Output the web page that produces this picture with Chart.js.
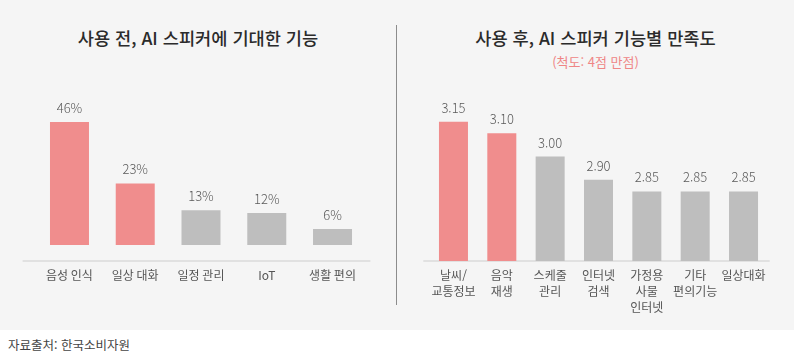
<!DOCTYPE html>
<html lang="ko">
<head>
<meta charset="utf-8">
<title>AI 스피커 기능</title>
<script src="https://cdn.jsdelivr.net/npm/chart.js@4/dist/chart.umd.min.js"></script>
<style>
  html, body { margin: 0; padding: 0; background: #fff; }
  body { width: 794px; height: 364px; position: relative; overflow: hidden;
         font-family: "Noto Sans CJK KR", "Noto Sans", sans-serif; }
  .panel { position: absolute; left: 0; top: 0; width: 794px; height: 330px; background: #f5f5f5; }
  .divider { position: absolute; left: 396px; top: 25px; width: 1px; height: 280px; background: #8c8c8c; }
  .title { position: absolute; top: 26px; margin: 0; font-size: 17.6px; font-weight: 500;
           color: #2b2b2b; text-align: center; line-height: 24px; }
  .sub { position: absolute; top: 53px; left: 397px; width: 397px; margin: 0; font-size: 13px;
         color: #ef8585; text-align: center; line-height: 18px; }
  .source { position: absolute; left: 8px; top: 336px; margin: 0; font-size: 12.5px; color: #444; line-height: 18px; }
  canvas { position: absolute; top: 0; }
</style>
</head>
<body>
<div class="panel"></div>
<div class="divider"></div>
<h2 class="title" style="left:0;width:396px;">사용 전, AI 스피커에 기대한 기능</h2>
<h2 class="title" style="left:397px;width:397px;">사용 후, AI 스피커 기능별 만족도</h2>
<p class="sub">(척도: 4점 만점)</p>
<canvas id="chartBefore" width="396" height="330" style="left:0"></canvas>
<canvas id="chartAfter" width="397" height="330" style="left:397px"></canvas>
<p class="source">자료출처: 한국소비자원</p>

<script>
  // ===== 데이터 =====
  const beforeLabels = ["음성 인식", "일상 대화", "일정 관리", "IoT", "생활 편의"];
  const beforeValues = [46, 23, 13, 12, 6];

  const afterLabels = [["날씨/", "교통정보"], ["음악", "재생"], ["스케줄", "관리"], ["인터넷", "검색"],
                       ["가정용", "사물", "인터넷"], ["기타", "편의기능"], ["일상대화"]];
  const afterValues = [3.15, 3.10, 3.00, 2.90, 2.85, 2.85, 2.85];

  const highlightCount = 2; // 앞의 두 항목 강조
  const PINK = "#f08d8d";
  const GRAY = "#bebebe";

  Chart.defaults.font.family = '"Noto Sans CJK KR", "Noto Sans", sans-serif';

  // 막대 위 값 표시
  const valueLabels = {
    id: "valueLabels",
    afterDatasetsDraw(chart, args, opts) {
      const { ctx } = chart;
      const meta = chart.getDatasetMeta(0);
      ctx.save();
      ctx.font = '300 13px "Noto Sans CJK KR", "Noto Sans", sans-serif';
      ctx.fillStyle = "#5a5a5a";
      ctx.textAlign = "center";
      ctx.textBaseline = "middle";
      meta.data.forEach((bar, i) => {
        const v = chart.data.datasets[0].data[i];
        ctx.fillText(opts.format(v), bar.x, bar.y - 14);
      });
      ctx.restore();
    }
  };

  // 바닥 기준선
  const baseLine = {
    id: "baseLine",
    beforeDatasetsDraw(chart, args, opts) {
      const { ctx, chartArea } = chart;
      ctx.save();
      ctx.strokeStyle = "#e1e1e1";
      ctx.lineWidth = 2;
      ctx.beginPath();
      ctx.moveTo(chartArea.left - opts.extendLeft, chartArea.bottom);
      ctx.lineTo(chartArea.right + opts.extendRight, chartArea.bottom);
      ctx.stroke();
      ctx.restore();
    }
  };

  function buildChart(canvas, labels, values, cfg) {
    return new Chart(canvas, {
      type: "bar",
      data: {
        labels,
        datasets: [{
          data: values,
          backgroundColor: values.map((v, i) => i < highlightCount ? PINK : GRAY),
          borderWidth: 0,
          barPercentage: 1,
          categoryPercentage: cfg.catPct
        }]
      },
      options: {
        responsive: false,
        animation: false,
        layout: { padding: { top: 80, left: cfg.padLeft, right: cfg.padRight, bottom: 0 } },
        plugins: {
          legend: { display: false },
          tooltip: { enabled: false },
          valueLabels: { format: cfg.format },
          baseLine: { extendLeft: cfg.extendLeft, extendRight: cfg.extendRight }
        },
        scales: {
          x: {
            grid: { display: false, drawTicks: false },
            border: { display: false },
            ticks: {
              color: "#555",
              padding: 7,
              maxRotation: 0,
              autoSkip: false,
              font: { size: 12, lineHeight: 1.3 }
            },
            afterFit(scale) { scale.height = 69; }
          },
          y: {
            display: false,
            min: cfg.min,
            max: cfg.max
          }
        }
      },
      plugins: [valueLabels, baseLine]
    });
  }

  buildChart(document.getElementById("chartBefore"), beforeLabels, beforeValues, {
    catPct: 0.593, padLeft: 36.6, padRight: 30.6, min: -6, max: 61.7,
    extendLeft: 14, extendRight: 5,
    format: (v) => `${v}%`
  });

  buildChart(document.getElementById("chartAfter"), afterLabels, afterValues, {
    catPct: 0.6, padLeft: 32.3, padRight: 26.3, min: 2.55, max: 3.33,
    extendLeft: 6, extendRight: 2,
    format: (v) => v.toFixed(2)
  });
</script>
</body>
</html>
